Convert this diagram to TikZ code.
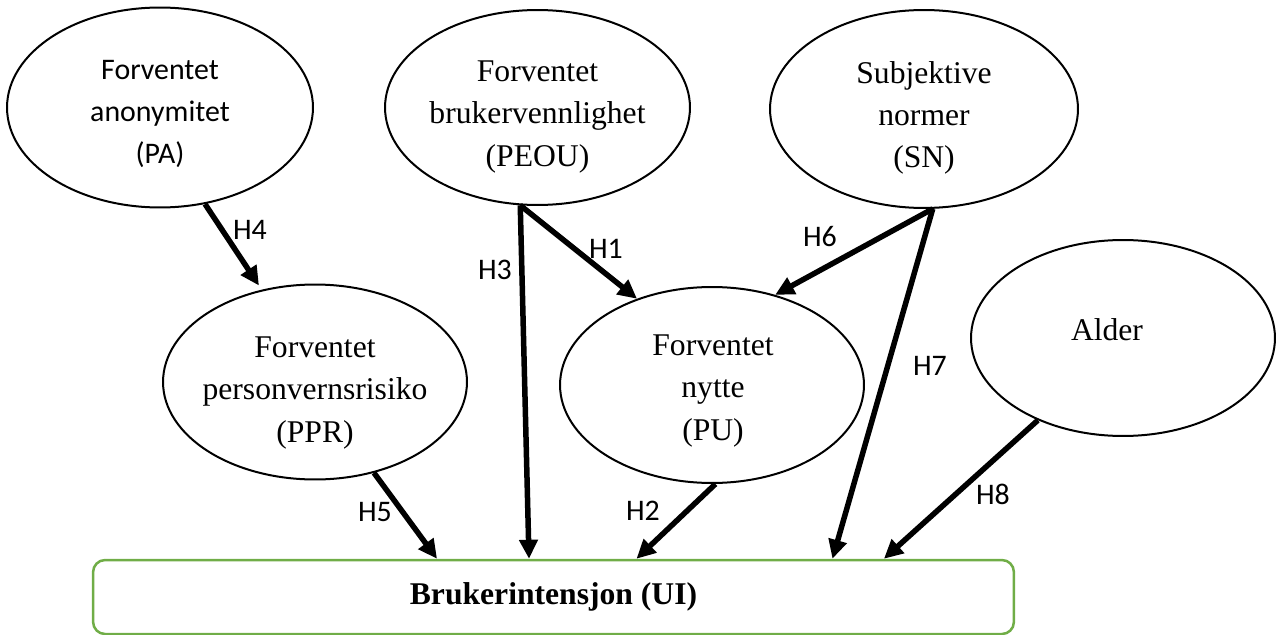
\documentclass[tikz,border=0pt]{standalone}
\usepackage{fontspec}
\setmainfont{Liberation Serif}
\newfontfamily\calibri{Carlito}
\usetikzlibrary{arrows.meta,shapes.geometric}
\definecolor{uigreen}{HTML}{70AD47}
\begin{document}
\begin{tikzpicture}[x=0.02cm,y=-0.02cm,
  ell/.style={ellipse, draw, line width=0.04cm, inner sep=0pt, minimum width=6.08cm, minimum height=3.92cm},
  ttext/.style={font=\fontsize{18}{24}\selectfont, align=center, inner sep=0pt},
  ctext/.style={font=\calibri\fontsize{17}{24}\selectfont, align=center, inner sep=0pt},
  hlab/.style={font=\calibri\fontsize{17}{20}\selectfont, inner sep=0pt},
  arr/.style={line width=0.11cm, -{Triangle[length=0.38cm,width=0.36cm]}},
  uibox/.style={draw=uigreen, line width=0.05cm, rounded corners=0.24cm, minimum width=18.42cm, minimum height=1.48cm, inner sep=0pt, font=\fontsize{18}{22}\selectfont\bfseries}
]
\useasboundingbox (0,0) rectangle (1277,635);

% ellipses
\node[ell, minimum width=6.12cm, minimum height=4cm] (PA) at (160,107.5) {};
\node[ell, minimum width=6.1cm, minimum height=3.9cm] (PEOU) at (537.5,107.5) {};
\node[ell, minimum width=6.16cm, minimum height=3.96cm] (SN) at (924,109) {};
\node[ell, minimum width=6.08cm, minimum height=3.9cm] (PPR) at (315,382) {};
\node[ell] (PU) at (712,385) {};
\node[ell] (Alder) at (1123,338) {};

% texts
\node[ctext] (PAt) at (160,114) {Forventet\\anonymitet\\(PA)};
\node[ttext] (PEOUt) at (537.5,117) {Forventet\\brukervennlighet\\(PEOU)};
\node[ttext] (SNt) at (924,118) {Subjektive\\normer\\(SN)};
\node[ttext] (PPRt) at (315,393) {Forventet\\personvernsrisiko\\(PPR)};
\node[ttext] (PUt) at (713,391) {Forventet\\nytte\\(PU)};
\node[ttext] (Aldert) at (1107,330) {Alder};

% target box
\node[uibox] (UI) at (553.5,597) {Brukerintensjon (UI)};

% arrows
\draw[arr, shorten >=0.1cm] (PA.-65.7) -- (PPR.120.2);
\draw[arr] (PEOU.260) -- ([xshift=-0.49cm]UI.north);
\draw[arr] (PEOU.260) -- (PU.131.2);
\draw[arr] (SN.-85.5) -- (PU.55.1);
\draw[arr] (SN.-85.5) -- ([xshift=5.58cm]UI.north);
\draw[arr] (PU.-88) -- ([xshift=1.66cm]UI.north);
\draw[arr] (PPR.-57.9) -- ([xshift=-2.33cm]UI.north);
\draw[arr] (Alder.224) -- ([xshift=6.61cm]UI.north);

% labels
\node[hlab] (h4) at (250,230) {H4};
\node[hlab] (h3) at (495,270) {H3};
\node[hlab] (h1) at (606,249) {H1};
\node[hlab] (h6) at (820,237) {H6};
\node[hlab] (h7) at (930,366) {H7};
\node[hlab] (h2) at (643,511) {H2};
\node[hlab] (h5) at (375,512) {H5};
\node[hlab] (h8) at (993,494) {H8};
\end{tikzpicture}
\end{document}
